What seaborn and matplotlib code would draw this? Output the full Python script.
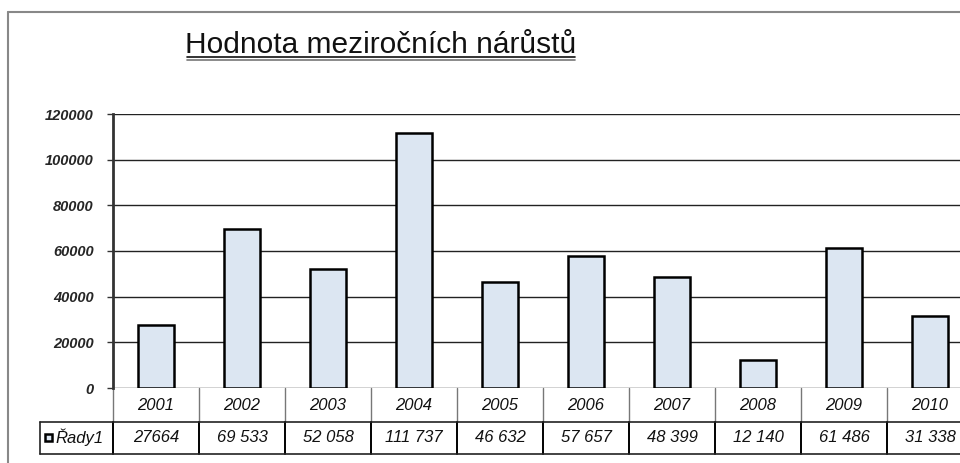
import matplotlib
matplotlib.use("Agg")
import matplotlib.pyplot as plt
import matplotlib.transforms as mtransforms
import seaborn as sns
import pandas as pd

years = ["2001", "2002", "2003", "2004", "2005", "2006", "2007", "2008", "2009", "2010"]
values = [27664, 69533, 52058, 111737, 46632, 57657, 48399, 12140, 61486, 31338]
value_labels = ["27664", "69 533", "52 058", "111 737", "46 632", "57 657",
                "48 399", "12 140", "61 486", "31 338"]
series_name = "Řady1"
title = "Hodnota meziročních nárůstů"
yticks = [0, 20000, 40000, 60000, 80000, 100000, 120000]

sns.set_theme(style="white")
plt.rcParams["font.family"] = ["Liberation Sans", "DejaVu Sans"]

W, H = 960, 463
fig = plt.figure(figsize=(W / 100, H / 100), dpi=100)
fig.patch.set_facecolor("white")

def fx(px):
    return px / W

def fy(py):
    return 1 - py / H

ax = fig.add_axes([fx(113), fy(388), fx(860), (388 - 114) / H])
df = pd.DataFrame({"year": years, "value": values})
sns.barplot(data=df, x="year", y="value", ax=ax, color="#dce6f2",
            edgecolor="black", linewidth=1.8, width=0.42, saturation=1)
ax.set_xlim(-0.5, len(years) - 0.5)
ax.set_ylim(0, 120000)
ax.set_yticks(yticks)
ax.set_yticklabels([str(v) for v in yticks], fontsize=10.5, fontweight="bold",
                   fontstyle="italic")
ax.tick_params(axis="y", left=True, length=4, width=1, color="#333333", pad=10)
ax.set_xticks([])
ax.set_xlabel("")
ax.set_ylabel("")
for s in ["top", "right", "bottom"]:
    ax.spines[s].set_visible(False)
ax.spines["left"].set_color("#333333")
ax.spines["left"].set_linewidth(2)
for v in yticks:
    ax.axhline(v, color="#222222", lw=1.0, zorder=0)

# table below the plot
bt = mtransforms.blended_transform_factory(ax.transData, fig.transFigure)
ft = fig.transFigure
n = len(years)
for k in range(n + 1):
    xb = -0.5 + k
    ax.plot([xb, xb], [fy(388), fy(422)], transform=bt, color="#777777",
            lw=1.0, clip_on=False)
    ax.plot([xb, xb], [fy(422), fy(454)], transform=bt, color="black",
            lw=1.4, clip_on=False)
ax.plot([fx(40), fx(1000)], [fy(422), fy(422)], transform=ft, color="#222222",
        lw=1.2, clip_on=False)
ax.plot([fx(40), fx(1000)], [fy(454), fy(454)], transform=ft, color="#222222",
        lw=1.2, clip_on=False)
ax.plot([fx(40), fx(40)], [fy(422), fy(454)], transform=ft, color="#222222",
        lw=1.2, clip_on=False)
for i, (yr, lab) in enumerate(zip(years, value_labels)):
    ax.text(i, fy(406), yr, transform=bt, ha="center", va="center",
            fontsize=12, fontstyle="italic", color="#111111")
    ax.text(i, fy(438), lab, transform=bt, ha="center", va="center",
            fontsize=12, fontstyle="italic", color="#111111")
# legend key
fig.patches.append(plt.Rectangle((fx(45), fy(441)), fx(7), 7 / H,
                                 transform=ft, facecolor="#dce6f2",
                                 edgecolor="black", lw=1.8))
fig.text(fx(55), fy(437), series_name, ha="left", va="center", fontsize=12,
         fontstyle="italic", color="#111111")

# outer chart border
fig.add_artist(plt.Line2D([fx(8), fx(8)], [fy(12), 0], transform=ft,
                          color="#888888", lw=1.5))
fig.add_artist(plt.Line2D([fx(8), 1], [fy(12), fy(12)], transform=ft,
                          color="#888888", lw=1.5))

# title with double underline
fig.text(fx(381), fy(53), title, ha="center", va="baseline", fontsize=21.5,
         color="#111111")
fig.add_artist(plt.Line2D([fx(187), fx(575)], [fy(57), fy(57)], transform=ft,
                          color="#111111", lw=1.2))
fig.add_artist(plt.Line2D([fx(187), fx(575)], [fy(59.5), fy(59.5)], transform=ft,
                          color="#777777", lw=1.2))

fig.savefig("out.png", dpi=100, facecolor="white")
